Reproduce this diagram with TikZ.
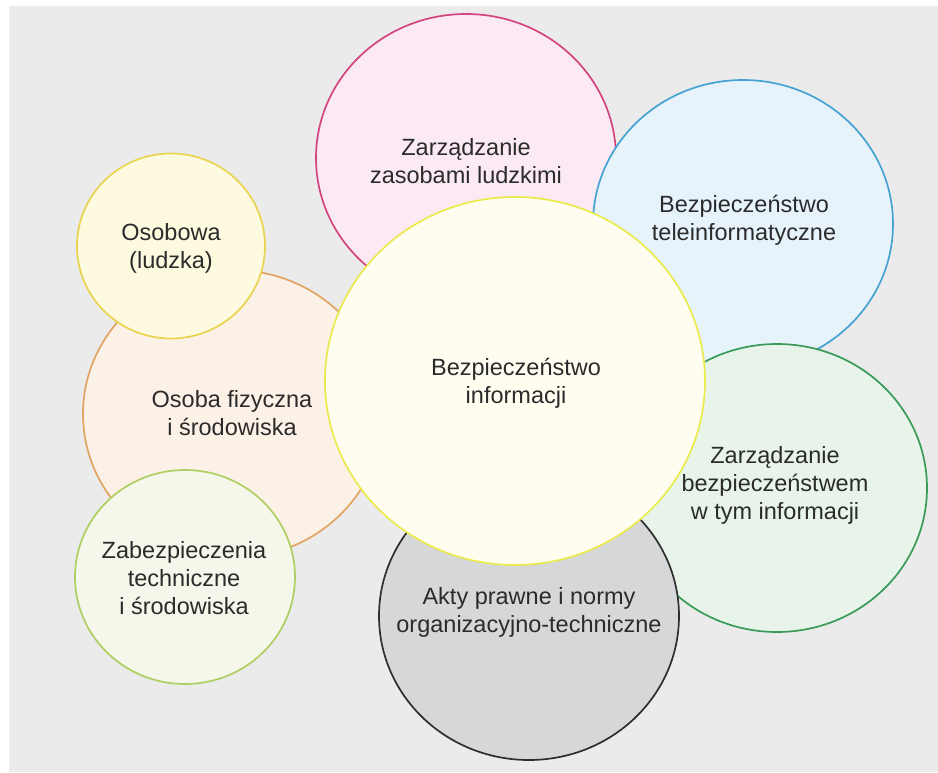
\documentclass[tikz,border=0pt]{standalone}
\usepackage{fontspec}
\setmainfont{Liberation Sans}
\usetikzlibrary{shapes.geometric}
\definecolor{tlo}{HTML}{EAEBEA}
\definecolor{napis}{HTML}{2B2B2B}
\definecolor{rozK}{HTML}{D4457F}
\definecolor{rozF}{HTML}{FBEAF3}
\definecolor{niebK}{HTML}{45A3D3}
\definecolor{niebF}{HTML}{E7F3FB}
\definecolor{zielK}{HTML}{3A9A57}
\definecolor{zielF}{HTML}{E8F4EA}
\definecolor{szarK}{HTML}{2E2E2E}
\definecolor{szarF}{HTML}{D6D7D9}
\definecolor{pomK}{HTML}{E2A463}
\definecolor{pomF}{HTML}{FCF1E6}
\definecolor{zoltK}{HTML}{E9D34F}
\definecolor{zoltF}{HTML}{FEFAE0}
\definecolor{oliwK}{HTML}{AFCF62}
\definecolor{oliwF}{HTML}{F4F7EA}
\definecolor{srodK}{HTML}{EAEA4C}
\definecolor{srodF}{HTML}{FFFDF0}
\begin{document}
\begin{tikzpicture}[x=1pt,y=-1pt,
    krag/.style={ellipse,draw,line width=1.7pt,inner sep=0pt},
    duzy/.style={krag,minimum width=300pt,minimum height=288pt},
    opis/.style={align=center,inner sep=0pt,text=napis,font=\fontsize{23.5}{28}\selectfont}]
    \useasboundingbox (0,0) rectangle (938,772);
    \fill[white] (0,0) rectangle (938,772);
    \fill[tlo] (9,6) rectangle (938,772);
    \node[duzy,draw=rozK,fill=rozF] (zasoby) at (466,158) {};
    \node[opis] (zasoby-t) at (466,161) {Zarządzanie\\zasobami ludzkimi};
    \node[duzy,draw=niebK,fill=niebF] (tele) at (743,224) {};
    \node[opis] (tele-t) at (744,220) {Bezpieczeństwo\\teleinformatyczne};
    \node[duzy,draw=zielK,fill=zielF] (zarzadzanie) at (777,488) {};
    \node[opis] (zarzadzanie-t) at (775,485) {Zarządzanie\\bezpieczeństwem\\w tym informacji};
    \node[duzy,draw=szarK,fill=szarF] (akty) at (529,616) {};
    \node[opis] (akty-t) at (529,612) {Akty prawne i normy\\organizacyjno-techniczne};
    \node[duzy,draw=pomK,fill=pomF] (fizyczna) at (233,414) {};
    \node[opis] (fizyczna-t) at (232,413) {Osoba fizyczna\\i środowiska};
    \node[krag,draw=zoltK,fill=zoltF,minimum width=188pt,minimum height=185pt] (osobowa) at (171,246) {};
    \node[opis] (osobowa-t) at (171,248) {Osobowa\\(ludzka)};
    \node[krag,draw=oliwK,fill=oliwF,minimum width=220pt,minimum height=214pt] (zabezp) at (185,577) {};
    \node[opis] (zabezp-t) at (184,578) {Zabezpieczenia\\techniczne\\i środowiska};
    \node[krag,draw=srodK,fill=srodF,minimum width=380pt,minimum height=368pt] (info) at (515,381) {};
    \node[opis] (info-t) at (516,383) {Bezpieczeństwo\\informacji};
\end{tikzpicture}
\end{document}
